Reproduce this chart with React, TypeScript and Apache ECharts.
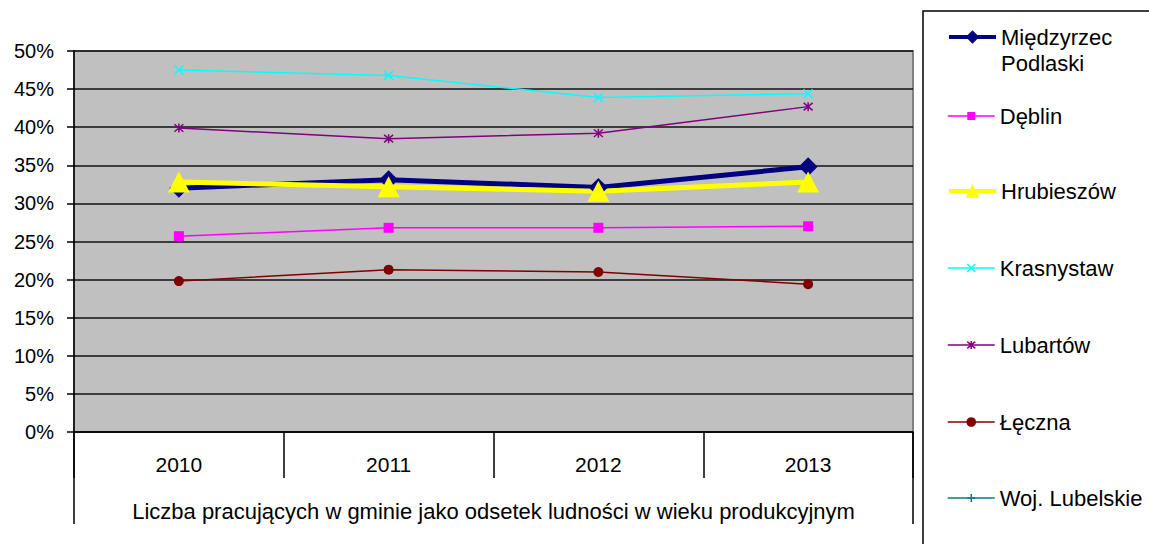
import React, { useEffect, useRef } from "react";
import * as echarts from "echarts";

const years = ["2010", "2011", "2012", "2013"];
const axisTitle = ["Liczba pracujących w gminie jako odsetek ludności w wieku produkcyjnym"];
const yTicks = { min: 0, max: 50, interval: 5 };

const miedzyrzec = [32.0, 33.1, 32.1, 34.8];
const deblin = [25.7, 26.8, 26.8, 27.0];
const hrubieszow = [32.8, 32.2, 31.6, 32.8];
const krasnystaw = [47.5, 46.8, 43.9, 44.4];
const lubartow = [39.9, 38.5, 39.2, 42.7];
const leczna = [19.8, 21.3, 21.0, 19.4];
const wojLubelskie: (number | null)[] = [];

const FONT = "'Liberation Sans', Arial, sans-serif";

const X_PATH = "path://M0,0L10,10M10,0L0,10";
const STAR_PATH = "path://M0,0L10,10M10,0L0,10M5,-1L5,11";
const PLUS_PATH = "path://M5,0L5,10M0,5L10,5";

export default function App() {
  const ref = useRef<HTMLDivElement>(null);
  useEffect(() => {
    if (!ref.current) return;
    const chart = echarts.init(ref.current, undefined, { renderer: "svg" });

    const seriesDefs = [
      { name: "Międzyrzec\nPodlaski", data: miedzyrzec, color: "#000080", width: 5, symbol: "diamond", size: 19, stroke: 0, legH: 17, legW: 4, center: 37, twoLine: true },
      { name: "Dęblin", data: deblin, color: "#ff00ff", width: 1.5, symbol: "rect", size: 10, stroke: 0, legH: 10, legW: 1.5, center: 116 },
      { name: "Hrubieszów", data: hrubieszow, color: "#ffff00", width: 5, symbol: "triangle", size: [22, 21], stroke: 0, legH: 17, legW: 4, center: 191 },
      { name: "Krasnystaw", data: krasnystaw, color: "#00ffff", width: 1.5, symbol: X_PATH, size: 9, stroke: 1.5, legH: 10, legW: 1.5, center: 268 },
      { name: "Lubartów", data: lubartow, color: "#800080", width: 1.5, symbol: STAR_PATH, size: 9, stroke: 1.5, legH: 10, legW: 1.5, center: 345 },
      { name: "Łęczna", data: leczna, color: "#800000", width: 1.5, symbol: "circle", size: 10, stroke: 0, legH: 12, legW: 1.5, center: 422 },
      { name: "Woj. Lubelskie", data: wojLubelskie, color: "#008080", width: 1.5, symbol: PLUS_PATH, size: 9, stroke: 1.5, legH: 10, legW: 1.5, center: 498 },
    ];

    const series = seriesDefs.map((s) => ({
      type: "line",
      name: s.name,
      data: s.data,
      xAxisIndex: 0,
      yAxisIndex: 0,
      symbol: s.symbol,
      symbolSize: s.size,
      showAllSymbol: true,
      lineStyle: { color: s.color, width: s.width },
      itemStyle: { color: s.color, borderColor: s.color, borderWidth: s.stroke, opacity: 1 },
      emphasis: { disabled: true },
    }));

    const LH = 26;
    const legends = seriesDefs.map((s) => ({
      data: [s.name],
      orient: "vertical",
      left: 947,
      top: s.twoLine ? s.center - (3 * LH) / 2 : s.center - LH / 2,
      padding: 0,
      itemWidth: 47,
      itemHeight: s.legH,
      itemGap: 0,
      selectedMode: false,
      formatter: s.twoLine ? (n: string) => "\n" + n : undefined,
      lineStyle: { width: s.legW, color: s.color },
      itemStyle: { color: s.color, borderColor: s.color, borderWidth: s.stroke },
      textStyle: { fontFamily: FONT, fontSize: 22, color: "#000", lineHeight: LH },
    }));

    chart.setOption({
      animation: false,
      grid: {
        left: 74,
        top: 51,
        right: 236,
        bottom: 112,
        show: true,
        backgroundColor: "#c0c0c0",
        borderColor: "#808080",
        borderWidth: 2,
      },
      legend: legends,
      xAxis: [
        {
          type: "category",
          position: "bottom",
          offset: 0,
          data: years,
          boundaryGap: true,
          axisLine: { show: true, lineStyle: { color: "#000", width: 1.5 } },
          axisTick: { show: true, interval: 0, length: 46, lineStyle: { color: "#000", width: 1.5 } },
          axisLabel: { margin: 22, color: "#000", fontFamily: FONT, fontSize: 21 },
          splitLine: { show: false },
        },
        {
          type: "category",
          position: "bottom",
          offset: 0,
          data: axisTitle,
          boundaryGap: true,
          axisLine: { show: false },
          axisTick: { show: true, interval: 0, length: 92, lineStyle: { color: "#000", width: 1.5 } },
          axisLabel: { margin: 68, color: "#000", fontFamily: FONT, fontSize: 22 },
          splitLine: { show: false },
        },
      ],
      yAxis: {
        type: "value",
        min: yTicks.min,
        max: yTicks.max,
        interval: yTicks.interval,
        axisLine: { show: true, lineStyle: { color: "#000", width: 1.5 } },
        axisTick: { show: true, inside: false, length: 7, lineStyle: { color: "#000", width: 1.5 } },
        axisLabel: {
          margin: 20,
          color: "#000",
          fontFamily: FONT,
          fontSize: 20,
          formatter: (v: number) => `${v}%`,
        },
        splitLine: { show: true, lineStyle: { color: "#111", width: 1.5 } },
      },
      graphic: [
        {
          type: "rect",
          shape: { x: 923, y: 11, width: 400, height: 700 },
          style: { fill: "none", stroke: "#000", lineWidth: 1.5 },
          silent: true,
          z: -1,
        },
      ],
      series,
    });

    return () => chart.dispose();
  }, []);

  return (
    <div
      ref={ref}
      style={{ position: "fixed", left: 0, top: 0, width: 1149, height: 544, background: "#fff" }}
    />
  );
}
